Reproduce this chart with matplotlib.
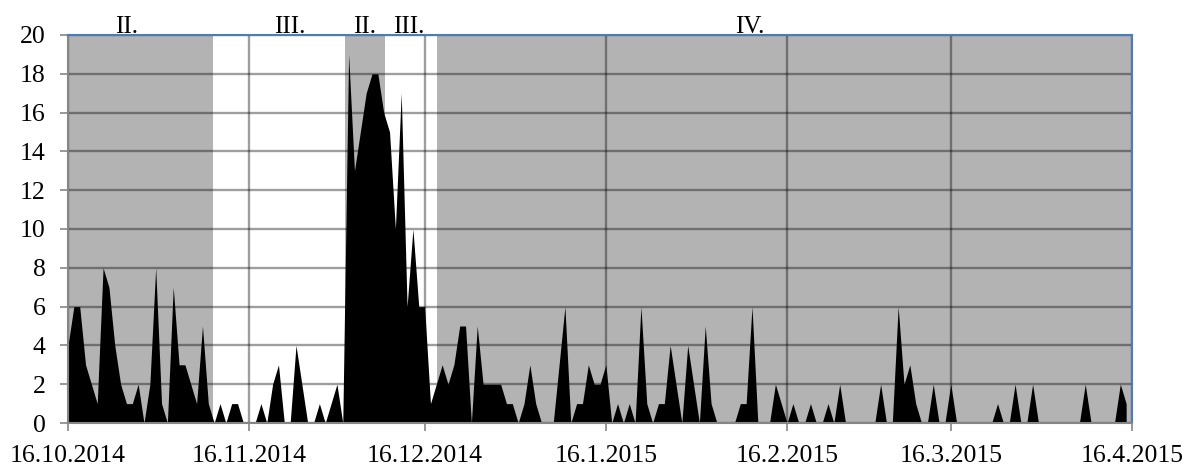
import matplotlib
matplotlib.use("Agg")
import matplotlib.pyplot as plt
import matplotlib.transforms as mtransforms
import pandas as pd

plt.rcParams["font.family"] = ["Liberation Serif", "DejaVu Serif"]

# denní hodnoty od 16.10.2014 do 15.4.2015
start_date = "2014-10-16"
values = [
    4, 6, 6, 3, 2, 1, 8, 7, 4, 2, 1, 1, 2, 0, 2, 8, 1, 0, 7, 3,
    3, 2, 1, 5, 1, 0, 1, 0, 1, 1, 0, 0, 0, 1, 0, 2, 3, 0, 0, 4,
    2, 0, 0, 1, 0, 1, 2, 0, 19, 13, 15, 17, 18, 18, 16, 15, 10, 17, 6, 10,
    6, 6, 1, 2, 3, 2, 3, 5, 5, 0, 5, 2, 2, 2, 2, 1, 1, 0, 1, 3,
    1, 0, 0, 0, 3, 6, 0, 1, 1, 3, 2, 2, 3, 0, 1, 0, 1, 0, 6, 1,
    0, 1, 1, 4, 2, 0, 4, 2, 0, 5, 1, 0, 0, 0, 0, 1, 1, 6, 0, 0,
    0, 2, 1, 0, 1, 0, 0, 1, 0, 0, 1, 0, 2, 0, 0, 0, 0, 0, 0, 2,
    0, 0, 6, 2, 3, 1, 0, 0, 2, 0, 0, 2, 0, 0, 0, 0, 0, 0, 0, 1,
    0, 0, 2, 0, 0, 2, 0, 0, 0, 0, 0, 0, 0, 0, 2, 0, 0, 0, 0, 0,
    2, 1,
]
dates = pd.date_range(start_date, periods=len(values), freq="D")

# fáze (hranice ve dnech od 16.10.2014), šedé = II./IV.
phase_edges = [0, 24.75, 47.35, 54.3, 63.2, 182]
phase_gray = [True, False, True, False, True]
phase_labels = ["II.", "III.", "II.", "III.", "IV."]
label_days = [10.1, 38.0, 50.8, 58.3, 116.6]

tick_dates = ["2014-10-16", "2014-11-16", "2014-12-16", "2015-01-16",
              "2015-02-16", "2015-03-16", "2015-04-16"]
tick_labels = ["16.10.2014", "16.11.2014", "16.12.2014", "16.1.2015",
               "16.2.2015", "16.3.2015", "16.4.2015"]

t0 = pd.Timestamp(start_date)

fig = plt.figure(figsize=(11.87, 4.67), dpi=100)
ax = fig.add_axes([68 / 1187, 1 - 423 / 467, (1132 - 68) / 1187, (423 - 35) / 467])

# šedé pozadí fází
for i, gray in enumerate(phase_gray):
    if gray:
        ax.axvspan(t0 + pd.Timedelta(days=phase_edges[i]),
                   t0 + pd.Timedelta(days=phase_edges[i + 1]),
                   color="#b3b3b3", lw=0, zorder=0)

ax.fill_between(dates, values, 0, color="black", lw=0, zorder=2)

ax.set_xlim(pd.Timestamp(tick_dates[0]), pd.Timestamp(tick_dates[-1]))
ax.set_ylim(0, 20)
ax.set_yticks(range(0, 21, 2))
ax.set_xticks(pd.to_datetime(tick_dates))
ax.set_xticklabels(tick_labels)

ax.set_axisbelow(True)
ax.grid(True, color="black", alpha=0.38, lw=1.7)

ax.tick_params(axis="both", labelsize=18.5, colors="#868686", labelcolor="black",
               length=6, width=1.2, direction="out")
ax.tick_params(axis="y", pad=10)
ax.tick_params(axis="x", pad=10)

for side in ["top", "right"]:
    ax.spines[side].set_color("#4a7ebb")
    ax.spines[side].set_linewidth(1.5)
for side in ["left", "bottom"]:
    ax.spines[side].set_color("#868686")
    ax.spines[side].set_linewidth(1.5)

# popisky fází nad grafem
trans = mtransforms.blended_transform_factory(ax.transData, ax.transAxes)
for lab, d in zip(phase_labels, label_days):
    ax.text(t0 + pd.Timedelta(days=d), 1.006, lab, transform=trans,
            ha="center", va="baseline", fontsize=18)

fig.savefig("out.png", dpi=100)
